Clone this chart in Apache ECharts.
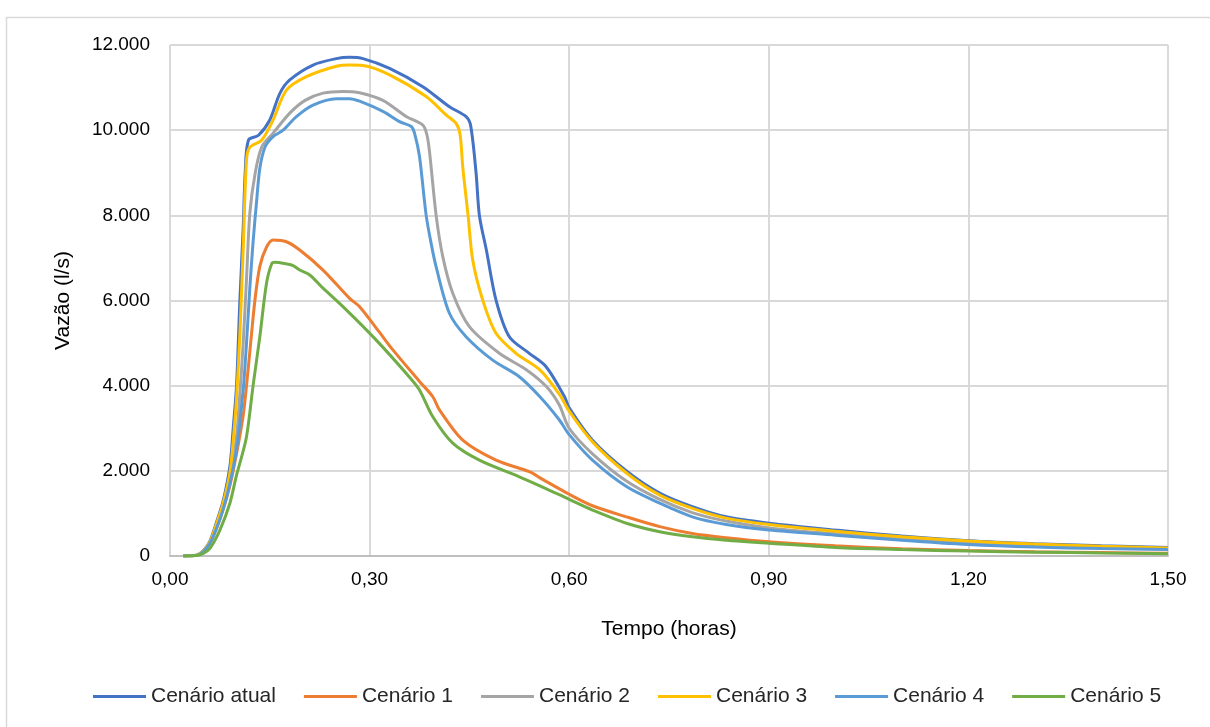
<!DOCTYPE html>
<html>
<head>
<meta charset="utf-8">
<script src="https://cdn.jsdelivr.net/npm/echarts@6/dist/echarts.min.js"></script>
<style>
html,body{margin:0;padding:0;background:#fff;}
#c{width:1210px;height:727px;}
</style>
</head>
<body>
<div id="c"></div>
<script>
// Data (time in hours, flow in l/s)
const seriesNames = ['Cenário atual', 'Cenário 1', 'Cenário 2', 'Cenário 3', 'Cenário 4', 'Cenário 5'];

const cenarioAtual = [[0.02,0],[0.04,20],[0.05,120],[0.06,350],[0.07,800],[0.08,1300],[0.09,2100],[0.095,3000],[0.1,4000],[0.105,6000],[0.11,7700],[0.113,9000],[0.118,9770],[0.133,9880],[0.15,10240],[0.165,10860],[0.18,11180],[0.215,11530],[0.25,11680],[0.27,11710],[0.29,11680],[0.33,11450],[0.38,11020],[0.42,10550],[0.445,10320],[0.452,10100],[0.46,9000],[0.465,8000],[0.4755,7185],[0.49,6011],[0.51,5150],[0.54,4760],[0.565,4450],[0.593,3740],[0.60,3480],[0.635,2720],[0.686,2000],[0.736,1480],[0.785,1160],[0.836,920],[0.9,770],[1.0,610],[1.1,470],[1.2,360],[1.3,290],[1.4,240],[1.5,200]];

const cenario1 = [[0.02,0],[0.04,15],[0.05,100],[0.06,300],[0.07,650],[0.08,1100],[0.09,1650],[0.1,2400],[0.11,3300],[0.115,4000],[0.12,4800],[0.1276,6000],[0.135,6800],[0.145,7250],[0.155,7420],[0.175,7380],[0.195,7185],[0.23,6715],[0.27,6050],[0.285,5855],[0.315,5250],[0.335,4840],[0.375,4100],[0.395,3740],[0.405,3430],[0.44,2720],[0.49,2250],[0.54,1980],[0.56,1800],[0.60,1450],[0.635,1180],[0.686,920],[0.736,690],[0.785,530],[0.836,430],[0.9,335],[1.0,240],[1.1,170],[1.2,130],[1.3,100],[1.4,80],[1.5,65]];

const cenario2 = [[0.02,0],[0.04,20],[0.05,120],[0.06,330],[0.07,700],[0.08,1200],[0.09,1800],[0.1,2800],[0.105,3800],[0.11,5000],[0.115,6500],[0.12,8050],[0.128,8990],[0.138,9610],[0.155,9930],[0.18,10400],[0.203,10700],[0.23,10870],[0.26,10910],[0.285,10880],[0.32,10700],[0.355,10320],[0.38,10120],[0.386,9900],[0.39,9500],[0.40,8000],[0.41,7030],[0.425,6170],[0.45,5385],[0.495,4760],[0.536,4370],[0.566,3975],[0.585,3550],[0.60,3000],[0.635,2400],[0.686,1760],[0.736,1330],[0.785,1020],[0.836,820],[0.9,660],[1.0,520],[1.1,400],[1.2,300],[1.3,240],[1.4,200],[1.5,165]];

const cenario3 = [[0.02,0],[0.04,20],[0.05,110],[0.06,330],[0.07,760],[0.08,1250],[0.09,1950],[0.095,2700],[0.1,3700],[0.105,5200],[0.11,7200],[0.115,9300],[0.12,9600],[0.138,9770],[0.155,10240],[0.175,10940],[0.205,11255],[0.25,11500],[0.27,11530],[0.29,11520],[0.33,11300],[0.385,10790],[0.415,10360],[0.43,10160],[0.436,9900],[0.44,9140],[0.448,8000],[0.455,6950],[0.47,6011],[0.49,5230],[0.52,4760],[0.556,4370],[0.586,3780],[0.60,3400],[0.635,2680],[0.686,1950],[0.736,1430],[0.785,1120],[0.836,890],[0.9,740],[1.0,580],[1.1,450],[1.2,350],[1.3,280],[1.4,230],[1.5,190]];

const cenario4 = [[0.02,0],[0.04,15],[0.05,100],[0.06,300],[0.07,650],[0.08,1100],[0.09,1700],[0.1,2500],[0.11,3900],[0.115,5000],[0.12,6300],[0.125,7400],[0.13,8300],[0.135,9100],[0.143,9610],[0.155,9850],[0.17,10000],[0.19,10320],[0.215,10590],[0.25,10740],[0.27,10740],[0.285,10680],[0.32,10440],[0.345,10200],[0.363,10080],[0.368,9900],[0.375,9380],[0.385,8000],[0.393,7300],[0.40,6790],[0.42,5700],[0.445,5150],[0.485,4600],[0.525,4210],[0.556,3740],[0.585,3200],[0.60,2850],[0.635,2250],[0.686,1630],[0.736,1240],[0.785,920],[0.836,740],[0.9,610],[1.0,490],[1.1,370],[1.2,270],[1.3,210],[1.4,175],[1.5,150]];

const cenario5 = [[0.02,0],[0.04,10],[0.05,60],[0.06,180],[0.075,610],[0.09,1240],[0.1,1900],[0.105,2180],[0.115,2800],[0.125,4015],[0.135,5150],[0.145,6400],[0.153,6870],[0.158,6900],[0.175,6860],[0.185,6820],[0.195,6715],[0.21,6600],[0.23,6290],[0.26,5855],[0.31,5070],[0.36,4200],[0.375,3900],[0.395,3270],[0.425,2650],[0.465,2250],[0.525,1860],[0.56,1620],[0.60,1330],[0.635,1080],[0.686,770],[0.736,570],[0.785,450],[0.836,370],[0.9,300],[1.0,200],[1.1,150],[1.2,115],[1.3,90],[1.4,70],[1.5,55]];

const seriesData = [cenarioAtual, cenario1, cenario2, cenario3, cenario4, cenario5];
const colors = ['#4472C4', '#ED7D31', '#A5A5A5', '#FFC000', '#5B9BD5', '#70AD47'];

const xMin = 0, xMax = 1.5, xStep = 0.3;
const yMin = 0, yMax = 12000, yStep = 2000;
const xTitle = 'Tempo (horas)';
const yTitle = 'Vazão (l/s)';

const FONT = '"Liberation Sans", Arial, sans-serif';

function fmtY(v) {
  return v === 0 ? '0' : v.toLocaleString('en-US').replace(/,/g, '.');
}
function fmtX(v) {
  return v.toFixed(2).replace('.', ',');
}

const chart = echarts.init(document.getElementById('c'), null, {renderer: 'canvas'});
chart.setOption({
  animation: false,
  backgroundColor: '#ffffff',
  graphic: [{
    type: 'rect', left: 4, top: 15, silent: true, z: -10,
    shape: {width: 1220, height: 740},
    style: {fill: 'none', stroke: '#d9d9d9', lineWidth: 1.5}
  }],
  grid: {left: 170, right: 42, top: 45, bottom: 171, containLabel: false},
  legend: {
    data: seriesNames,
    bottom: 15,
    left: 88,
    icon: 'rect',
    itemWidth: 53,
    itemHeight: 3,
    itemGap: 28,
    textStyle: {fontFamily: FONT, fontSize: 21, color: '#262626', padding: [0, 0, 0, 0]}
  },
  xAxis: {
    type: 'value', min: xMin, max: xMax, interval: xStep,
    name: xTitle, nameLocation: 'middle', nameGap: 63,
    nameTextStyle: {fontFamily: FONT, fontSize: 21, color: '#000'},
    axisLine: {show: true, lineStyle: {color: '#bfbfbf', width: 2}},
    axisTick: {show: false},
    axisLabel: {formatter: fmtX, fontFamily: FONT, fontSize: 19, color: '#000', margin: 14},
    splitLine: {show: true, lineStyle: {color: '#d9d9d9', width: 2}}
  },
  yAxis: {
    type: 'value', min: yMin, max: yMax, interval: yStep,
    name: yTitle, nameLocation: 'middle', nameGap: 96,
    nameTextStyle: {fontFamily: FONT, fontSize: 21, color: '#000'},
    axisLine: {show: false},
    axisTick: {show: false},
    axisLabel: {formatter: fmtY, fontFamily: FONT, fontSize: 19, color: '#000', margin: 20},
    splitLine: {show: true, lineStyle: {color: '#d9d9d9', width: 2}}
  },
  series: seriesNames.map((n, i) => ({
    name: n,
    type: 'line',
    data: seriesData[i],
    smooth: 0.3,
    showSymbol: false,
    symbol: 'none',
    color: colors[i],
    lineStyle: {width: 3, color: colors[i]}
  }))
});
</script>
</body>
</html>
